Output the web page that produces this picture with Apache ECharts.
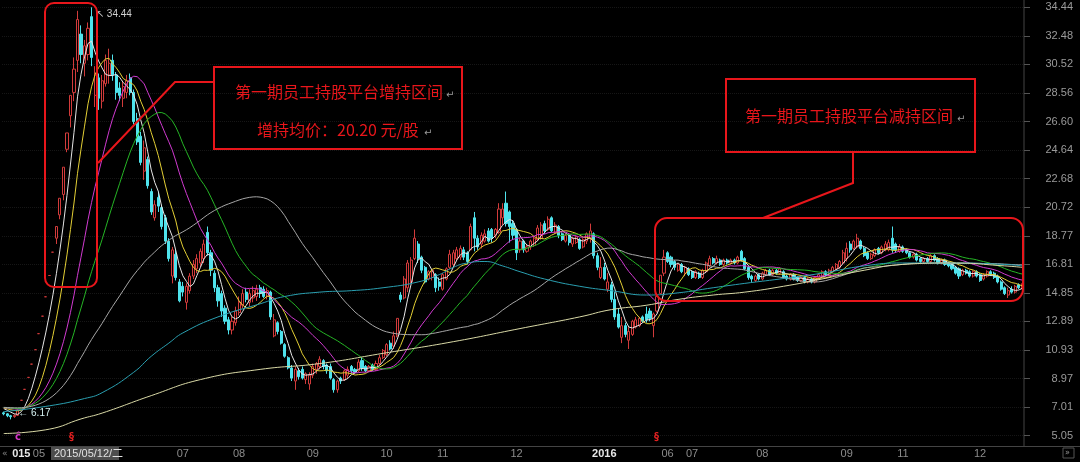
<!DOCTYPE html>
<html><head><meta charset="utf-8">
<script src="https://cdn.jsdelivr.net/npm/echarts@6/dist/echarts.min.js"></script>
<style>html,body{margin:0;padding:0;background:#000;}#c{width:1080px;height:462px;}</style>
</head><body><div id="c"></div>
<script>
// daily candles: [open, close, low, high]
const candles = [
[6.62,6.55,6.45,6.70],[6.55,6.42,6.32,6.60],[6.42,6.35,6.17,6.48],[6.36,6.45,6.28,6.52],[6.45,6.80,6.40,6.85],
[7.48,7.48,7.48,7.48],[8.23,8.23,8.23,8.23],[9.05,9.05,9.05,9.05],[9.96,9.96,9.96,9.96],[10.95,10.95,10.95,10.95],
[12.05,12.05,12.05,12.05],[13.25,13.25,13.25,13.25],[14.58,14.58,14.58,14.58],[16.04,16.04,16.04,16.04],[17.64,17.64,17.64,17.64],
[18.60,19.40,18.20,19.40],[20.20,21.34,19.90,21.34],[21.60,23.47,21.20,23.47],[24.70,25.82,24.50,25.82],[27.00,28.40,26.20,28.40],
[28.60,30.20,28.00,31.00],[30.80,33.60,30.00,34.20],[32.60,31.20,30.60,33.20],[30.60,31.80,29.70,32.20],[31.20,33.00,30.80,33.40],
[33.80,31.00,30.40,34.44],[28.40,29.80,27.60,30.40],[29.60,28.20,27.40,29.90],[28.00,29.40,27.50,29.80],[29.20,30.80,29.00,31.20],
[29.80,30.60,29.20,31.60],[30.80,29.80,29.40,31.20],[29.80,28.60,28.10,30.00],[28.90,28.40,28.00,29.30],[28.20,29.00,27.60,29.40],
[28.60,29.40,28.20,29.80],[29.60,28.60,28.40,29.90],[28.60,26.60,26.40,28.80],[26.80,25.20,25.00,27.20],[25.60,23.80,23.60,25.90],
[23.20,24.80,22.60,25.30],[24.00,22.20,22.00,24.20],[21.80,20.40,20.20,22.00],[20.00,20.90,19.80,21.20],[21.40,20.80,20.40,21.80],
[20.70,19.40,19.20,20.90],[20.00,18.40,18.20,20.20],[18.40,17.20,17.00,18.60],[16.00,17.80,15.50,18.00],[17.50,15.90,15.70,17.80],
[15.60,14.30,14.20,15.80],[15.30,14.90,14.60,15.60],[14.20,15.30,13.70,15.50],[15.00,16.00,14.80,16.20],[16.00,16.80,15.80,17.10],
[16.50,17.20,16.20,17.50],[16.90,17.70,16.60,17.90],[17.20,18.20,16.90,18.50],[19.00,17.60,17.40,19.40],[17.60,16.40,16.00,17.80],
[16.20,15.20,14.90,16.40],[15.20,14.30,13.90,15.40],[14.80,13.60,13.20,15.00],[13.80,12.90,12.70,14.00],[13.00,12.30,12.00,13.20],
[12.30,12.90,12.00,13.20],[12.80,13.60,12.60,13.90],[13.50,14.20,13.30,14.60],[14.00,14.80,13.80,15.10],[14.90,14.40,14.20,15.20],
[14.20,14.80,13.90,15.10],[14.50,15.00,14.20,15.30],[14.60,15.10,14.30,15.40],[15.20,14.80,14.50,15.40],[15.10,14.60,14.50,15.30],
[14.60,15.00,14.40,15.20],[14.90,13.20,13.00,15.00],[11.90,13.00,11.80,13.40],[12.80,12.20,12.00,12.90],[12.20,11.40,11.30,12.30],
[11.30,10.50,10.40,11.40],[10.40,9.70,9.60,10.50],[9.70,9.00,8.80,9.90],[8.80,9.60,8.20,9.80],[9.50,9.10,8.90,9.70],
[9.60,9.00,8.90,9.80],[8.90,9.30,8.60,9.40],[8.60,9.20,8.20,9.40],[9.20,9.80,9.00,10.00],[9.60,10.00,9.30,10.10],
[9.80,10.30,9.60,10.50],[10.20,9.80,9.60,10.30],[9.90,9.50,9.30,10.00],[9.80,9.00,8.90,10.00],[8.90,8.20,8.00,9.00],
[8.20,8.80,8.00,8.90],[9.00,8.80,8.60,9.10],[8.90,9.50,8.80,9.60],[9.20,9.60,9.00,9.80],[9.80,9.50,9.30,9.90],
[9.60,9.40,9.30,9.70],[9.50,10.10,9.40,10.30],[10.20,9.70,9.50,10.40],[9.80,9.50,9.40,9.90],[9.50,9.80,9.40,9.90],
[9.90,9.60,9.50,10.00],[9.60,10.00,9.50,10.20],[10.00,10.40,9.90,10.60],[10.40,10.90,10.30,11.00],[10.60,11.30,10.50,11.40],
[11.40,11.00,10.90,11.60],[11.20,11.90,11.00,12.20],[11.90,13.10,11.80,13.10],[14.70,14.40,14.20,14.90],[14.50,15.80,14.40,16.00],
[15.20,16.90,14.90,17.10],[15.60,17.10,15.50,17.30],[17.20,18.60,17.10,19.20],[18.20,17.20,16.90,18.40],[17.30,16.40,16.20,17.40],
[16.60,15.60,15.50,16.70],[15.80,16.30,15.70,16.40],[15.90,16.40,15.70,16.50],[16.10,15.20,14.90,16.20],[15.60,15.30,15.00,15.90],
[15.10,16.10,15.00,16.20],[15.80,16.50,15.70,16.60],[16.60,17.50,16.50,17.80],[16.80,17.60,16.60,17.80],[17.20,17.80,17.10,18.00],
[17.30,17.90,17.10,18.10],[17.80,17.30,17.10,18.00],[17.60,17.00,16.80,17.70],[17.80,19.40,17.80,19.60],[20.00,18.60,17.70,20.40],
[18.60,18.00,17.80,18.80],[18.20,18.80,17.90,19.00],[18.40,18.90,18.30,19.20],[19.10,18.40,18.30,19.30],[19.20,18.60,18.30,19.30],
[18.80,19.20,18.60,19.30],[19.00,20.60,18.90,21.00],[20.00,20.60,19.50,21.00],[21.00,19.60,19.40,21.80],[20.40,19.40,18.30,20.50],
[19.60,18.80,18.50,19.80],[19.20,17.60,17.10,19.30],[17.80,18.40,17.60,18.60],[18.40,17.80,17.60,18.50],[17.70,18.00,17.60,18.20],
[18.00,18.40,17.80,18.50],[18.10,18.60,18.00,18.70],[18.50,19.30,18.40,19.50],[18.60,19.50,18.50,19.70],[19.60,19.10,18.90,19.80],
[19.20,19.90,19.10,20.10],[20.00,19.10,19.00,20.10],[19.00,19.50,18.90,19.70],[19.40,18.80,18.60,19.50],[18.90,18.50,18.40,19.00],
[18.40,18.80,18.30,18.90],[18.80,18.30,18.10,18.90],[18.20,18.60,18.00,18.70],[18.30,18.70,18.20,18.80],[18.50,17.90,17.80,18.60],
[18.00,18.50,17.90,18.60],[18.40,18.90,18.20,19.00],[18.60,19.10,18.30,19.60],[18.90,17.40,17.20,19.00],[17.40,16.60,16.40,17.60],
[15.90,16.60,15.80,17.30],[16.60,15.80,15.70,16.90],[15.10,15.60,14.90,16.20],[15.40,14.40,14.20,15.60],[14.40,13.20,13.00,14.90],
[13.40,12.50,12.40,13.80],[11.80,12.60,11.40,13.20],[12.60,12.00,11.80,12.80],[11.60,12.20,11.00,12.50],[12.00,12.90,11.90,13.00],
[12.50,13.00,12.40,13.20],[12.60,13.10,12.50,13.20],[13.20,12.90,12.80,13.30],[13.40,13.00,12.80,13.90],[13.60,13.10,12.90,13.80],
[12.60,13.40,11.80,13.50],[13.60,14.60,13.50,14.80],[14.80,16.06,14.80,16.06],[16.20,17.30,16.00,17.80],[17.60,17.00,16.90,17.70],
[17.30,16.80,16.60,17.40],[17.00,16.60,16.40,17.10],[16.40,16.80,16.30,16.90],[16.80,16.30,16.20,16.90],[16.20,16.60,16.00,16.70],
[16.50,16.10,16.00,16.60],[16.30,15.90,15.80,16.40],[15.90,16.30,15.80,16.40],[16.20,15.90,15.80,16.30],[15.90,16.40,15.80,16.50],
[16.30,16.90,16.20,17.00],[16.70,17.20,16.60,17.40],[17.20,16.90,16.80,17.30],[16.90,17.20,16.80,17.40],[17.10,16.80,16.70,17.20],
[16.80,17.10,16.70,17.20],[17.10,16.90,16.80,17.20],[16.90,17.10,16.80,17.20],[17.10,16.90,16.80,17.20],[16.90,17.30,16.80,17.40],
[17.70,17.10,17.00,17.80],[17.20,16.50,16.40,17.30],[16.60,15.90,15.75,16.70],[16.00,15.80,15.60,16.10],[15.70,16.00,15.60,16.10],
[16.10,15.80,15.70,16.20],[15.80,16.20,15.70,16.30],[16.10,16.40,16.00,16.50],[16.40,16.10,16.00,16.50],[16.10,16.40,16.00,16.50],
[16.40,16.20,16.10,16.50],[16.20,16.50,16.10,16.60],[16.30,15.90,15.80,16.40],[16.00,15.80,15.70,16.10],[15.80,16.10,15.70,16.20],
[16.10,15.80,15.70,16.20],[15.90,15.70,15.60,16.00],[15.70,15.90,15.60,16.00],[15.90,15.60,15.50,16.00],[15.60,15.80,15.50,15.90],
[15.80,15.60,15.50,15.90],[15.60,15.90,15.50,16.00],[15.90,16.10,15.80,16.20],[16.00,16.30,15.90,16.40],[16.30,16.10,16.00,16.40],
[16.10,16.40,16.00,16.50],[16.30,16.60,16.20,16.70],[16.50,16.80,16.40,16.90],[16.60,17.00,16.50,17.10],[16.90,17.60,16.80,17.80],
[17.20,17.90,17.00,18.30],[18.20,17.80,17.60,18.40],[17.90,18.40,17.80,18.50],[18.00,18.60,17.90,18.90],[18.40,17.90,17.80,18.50],
[17.90,17.40,17.30,18.00],[17.60,17.20,17.10,17.70],[17.20,17.50,17.10,17.60],[17.40,17.80,17.30,17.90],[17.90,17.60,17.50,18.00],
[17.60,18.00,17.50,18.10],[17.80,18.20,17.70,18.40],[17.80,18.30,17.70,18.50],[18.60,17.80,17.60,19.40],[18.20,17.80,17.60,18.30],
[17.70,18.00,17.60,18.20],[18.00,17.70,17.60,18.10],[17.80,17.60,17.50,17.90],[17.60,17.30,17.20,17.70],[17.30,17.50,17.20,17.60],
[17.50,17.10,17.00,17.60],[17.20,17.00,16.90,17.30],[17.00,17.20,16.90,17.30],[17.20,17.00,16.90,17.30],[17.00,17.40,16.90,17.50],
[17.40,17.10,17.00,17.50],[17.20,16.90,16.80,17.30],[16.90,17.10,16.80,17.20],[17.10,16.80,16.70,17.20],[16.90,16.70,16.60,17.00],
[16.80,16.50,16.40,16.90],[16.60,16.20,16.10,16.70],[16.50,16.00,15.80,16.60],[16.10,16.40,16.00,16.50],[16.40,16.20,16.10,16.50],
[16.30,16.00,15.90,16.40],[16.00,16.30,15.90,16.40],[16.30,16.00,15.90,16.40],[16.10,15.70,15.60,16.20],[15.80,16.10,15.70,16.20],
[16.00,16.30,15.90,16.40],[16.30,16.10,16.00,16.40],[16.20,15.90,15.80,16.30],[16.00,15.60,15.50,16.10],[15.60,15.10,15.00,15.70],
[15.20,14.80,14.70,15.30],[14.70,15.00,14.50,15.20],[15.10,14.90,14.80,15.30],[14.90,15.30,14.80,15.40],[15.40,15.20,15.10,15.50],
[15.20,15.40,15.10,15.50]
];
// level the short averages sit at on the left edge (before the first visible day)
const priorLevel = 7.0;
// long averages: [day index, value]
const ma120Pts = [[0,6.7],[13,7.1],[23,7.6],[28,8.0],[37,9.4],[42,10.5],[47,11.4],[51,12.1],[61,13.2],[73,14.1],[80,14.6],[90,14.9],[99,15.0],[108,15.2],[118,15.6],[124,16.1],[128,16.6],[132,16.9],[137,17.0],[142,16.7],[147,16.3],[154,15.8],[164,15.3],[173,15.0],[183,14.7],[192,14.85],[202,15.2],[211,15.5],[221,15.8],[233,16.2],[245,16.7],[256,16.9],[270,16.9],[285,16.8],[290,16.7]];
const ma250Pts = [[0,5.2],[13,5.5],[22,6.2],[28,6.6],[42,7.8],[56,8.9],[73,9.6],[90,10.0],[108,10.7],[128,11.5],[147,12.4],[164,13.2],[173,13.7],[183,14.0],[192,14.4],[202,14.7],[211,14.9],[222,15.3],[233,15.8],[245,16.4],[256,16.8],[270,16.9],[285,16.7],[290,16.6]];
// month labels: [day index, text]
const monthTicks = [[5,'015'],[10,'05'],[51,'07'],[67,'08'],[88,'09'],[109,'10'],[125,'11'],[146,'12'],[171,'2016'],[189,'06'],[196,'07'],[216,'08'],[240,'09'],[256,'11'],[278,'12']];
const brightTicks = ['015','2016'];
const priceTicks = [5.05,7.01,8.97,10.93,12.89,14.85,16.81,18.77,20.72,22.68,24.64,26.60,28.56,30.52,32.48,34.44];

const closes = candles.map(d => d[1]);
function movingAverage(n) {
  return closes.map((_, i) => {
    let s = 0;
    for (let k = i - n + 1; k <= i; k++) s += k < 0 ? priorLevel : closes[k];
    return +(s / n).toFixed(3);
  });
}
const categories = candles.map((_, i) => 'd' + i);
const labelAt = {};
monthTicks.forEach(([i, t]) => { labelAt[i] = t; });

const maDefs = [[5, '#e6e6e6'], [10, '#e3cf35'], [20, '#d13ad1'], [30, '#25b525'], [60, '#a6a6a6']];
const red = '#e8161b';
const upRed = '#d23b3b';

const chart = echarts.init(document.getElementById('c'), null, {renderer: 'canvas'});
const yMin = priceTicks[0], yMax = priceTicks[priceTicks.length - 1];
chart.setOption({
  backgroundColor: '#000',
  animation: false,
  grid: {left: 2, right: 56, top: 7.3, bottom: 26.3},
  xAxis: {
    type: 'category', data: categories, boundaryGap: true, offset: 10,
    axisLine: {show: false}, axisTick: {show: false}, splitLine: {show: false},
    axisLabel: {
      interval: 0, margin: 3, fontSize: 11, color: '#8c8c8c', fontFamily: 'Liberation Sans',
      formatter: (v, i) => {
        const t = labelAt[i];
        if (!t) return '';
        return brightTicks.includes(t) ? '{b|' + t + '}' : t;
      },
      rich: {b: {color: '#e6e6e6', fontSize: 11, fontWeight: 'bold', fontFamily: 'Liberation Sans'}}
    }
  },
  yAxis: {
    type: 'value', position: 'right', scale: true,
    min: yMin, max: yMax, interval: (yMax - yMin) / (priceTicks.length - 1),
    axisLine: {show: false},
    axisTick: {show: true, length: 6, lineStyle: {color: '#555'}},
    splitLine: {show: true, lineStyle: {color: '#161616', type: 'dotted'}},
    axisLabel: {color: '#9a9a9a', fontSize: 11, fontFamily: 'Liberation Sans', align: 'right', margin: 49,
      formatter: v => v.toFixed(2)}
  },
  series: [
    {
      type: 'candlestick', data: candles, barWidth: 2.6,
      itemStyle: {color: '#000', color0: '#4fe3ec', borderColor: upRed, borderColor0: '#4fe3ec',
        borderColorDoji: upRed, borderWidth: 1},
      markPoint: {
        symbol: 'circle', symbolSize: 1, itemStyle: {color: 'rgba(0,0,0,0)'},
        data: [
          {type: 'max', valueDim: 'highest',
            label: {show: true, position: [5, 2], color: '#d0d0d0', fontSize: 10, fontFamily: 'Liberation Sans',
              formatter: p => '↖ ' + p.value.toFixed(2)}},
          {type: 'min', valueDim: 'lowest',
            label: {show: true, position: [8, -11], color: '#d8f4f4', fontSize: 10, fontFamily: 'Liberation Sans',
              formatter: p => '← ' + p.value.toFixed(2)}}
        ]
      }
    },
    ...maDefs.map(([n, c]) => ({
      type: 'line', data: movingAverage(n), showSymbol: false, symbol: 'none',
      lineStyle: {color: c, width: 1}, z: 3
    })),
    {type: 'line', data: ma120Pts, smooth: true, showSymbol: false, symbol: 'none', lineStyle: {color: '#2a9fb0', width: 1}, z: 3},
    {type: 'line', data: ma250Pts, smooth: true, showSymbol: false, symbol: 'none', lineStyle: {color: '#d9d9a6', width: 1}, z: 3}
  ],
  graphic: [
    {type: 'line', shape: {x1: 1024, y1: 0, x2: 1024, y2: 446}, style: {stroke: '#444', lineWidth: 1}, silent: true},
    {type: 'line', shape: {x1: 0, y1: 446.5, x2: 1080, y2: 446.5}, style: {stroke: '#444', lineWidth: 1}, silent: true},
    {type: 'rect', shape: {x: 45, y: 3, width: 52, height: 284, r: 9}, style: {fill: 'none', stroke: red, lineWidth: 2}, z: 10},
    {type: 'polyline', shape: {points: [[98, 163], [175, 82], [214, 82]]}, style: {fill: 'none', stroke: red, lineWidth: 2}, z: 10},
    {type: 'rect', shape: {x: 214, y: 67, width: 248, height: 82}, style: {fill: 'none', stroke: red, lineWidth: 2}, z: 10},
    {type: 'text', x: 235, y: 92, style: {text: '第一期员工持股平台增持区间', fill: red, font: '16px "Noto Sans CJK SC"', textVerticalAlign: 'middle'}, z: 10},
    {type: 'text', x: 446, y: 95, style: {text: '↵', fill: '#9a9a9a', font: '10px "DejaVu Sans"', textVerticalAlign: 'middle'}, z: 10},
    {type: 'text', x: 257, y: 130, style: {text: '增持均价：20.20 元/股', fill: red, font: '16px "Noto Sans CJK SC"', textVerticalAlign: 'middle'}, z: 10},
    {type: 'text', x: 424, y: 133, style: {text: '↵', fill: '#9a9a9a', font: '10px "DejaVu Sans"', textVerticalAlign: 'middle'}, z: 10},
    {type: 'rect', shape: {x: 726, y: 79, width: 249, height: 73}, style: {fill: 'none', stroke: red, lineWidth: 2}, z: 10},
    {type: 'text', x: 745, y: 116, style: {text: '第一期员工持股平台减持区间', fill: red, font: '16px "Noto Sans CJK SC"', textVerticalAlign: 'middle'}, z: 10},
    {type: 'text', x: 957, y: 119, style: {text: '↵', fill: '#9a9a9a', font: '10px "DejaVu Sans"', textVerticalAlign: 'middle'}, z: 10},
    {type: 'polyline', shape: {points: [[853, 152], [853, 183], [763, 218]]}, style: {fill: 'none', stroke: red, lineWidth: 2}, z: 10},
    {type: 'rect', shape: {x: 655, y: 218, width: 368, height: 83, r: 12}, style: {fill: 'none', stroke: red, lineWidth: 2}, z: 10},
    {type: 'rect', shape: {x: 51, y: 447, width: 68, height: 13}, style: {fill: '#4d4d4d'}, z: 10},
    {type: 'text', x: 54, y: 454, style: {text: '2015/05/12/二', fill: '#e0e0e0', font: '11px "Liberation Sans", "Noto Sans CJK SC"', textVerticalAlign: 'middle'}, z: 11},
    {type: 'text', x: 2, y: 454, style: {text: '«', fill: '#888', font: '9px "DejaVu Sans"', textVerticalAlign: 'middle'}, z: 10},
    {type: 'rect', shape: {x: 1063, y: 448, width: 11, height: 10}, style: {fill: 'none', stroke: '#555', lineWidth: 1}, z: 10},
    {type: 'text', x: 1065, y: 453, style: {text: '»', fill: '#999', font: '8px "DejaVu Sans"', textVerticalAlign: 'middle'}, z: 10},
    {type: 'text', x: 15, y: 437, style: {text: 'ĉ', fill: '#d636c6', font: 'bold 10px "DejaVu Sans"', textVerticalAlign: 'middle'}, z: 10},
    {type: 'text', x: 69, y: 437, style: {text: '§', fill: '#e02020', font: 'bold 10px "DejaVu Sans"', textVerticalAlign: 'middle'}, z: 10},
    {type: 'text', x: 654, y: 437, style: {text: '§', fill: '#e02020', font: 'bold 10px "DejaVu Sans"', textVerticalAlign: 'middle'}, z: 10}
  ]
});
</script>
</body></html>
